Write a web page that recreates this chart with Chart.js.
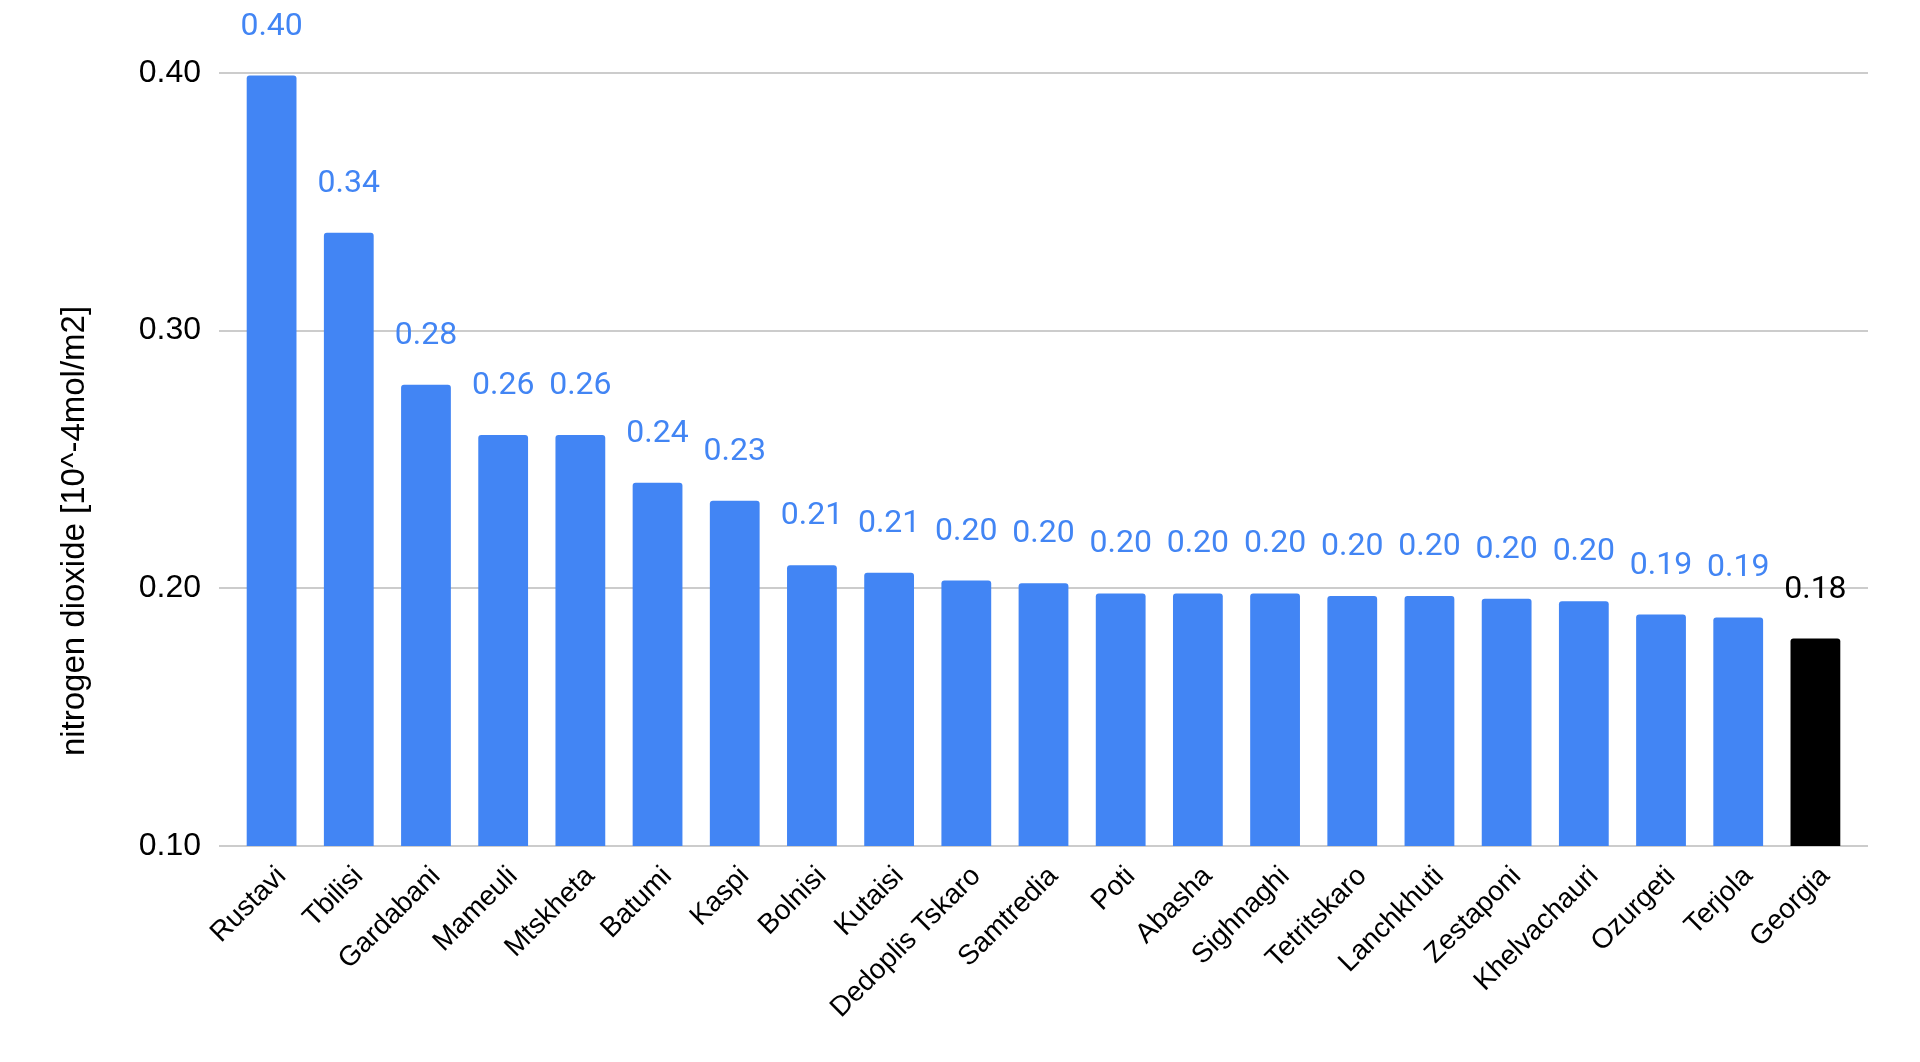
<!DOCTYPE html>
<html>
<head>
<meta charset="utf-8">
<script src="https://cdn.jsdelivr.net/npm/chart.js@4"></script>
<style>
  html, body { margin: 0; padding: 0; background: #fff; }
  #wrap { width: 1920px; height: 1062px; }
</style>
</head>
<body>
<div id="wrap"><canvas id="grafico"></canvas></div>
<script>
// regiões e valores
const regioes = ['Rustavi', 'Tbilisi', 'Gardabani', 'Mameuli', 'Mtskheta', 'Batumi', 'Kaspi',
  'Bolnisi', 'Kutaisi', 'Dedoplis Tskaro', 'Samtredia', 'Poti', 'Abasha', 'Sighnaghi',
  'Tetritskaro', 'Lanchkhuti', 'Zestaponi', 'Khelvachauri', 'Ozurgeti', 'Terjola', 'Georgia'];
const valoresNO2 = [0.399, 0.338, 0.279, 0.2595, 0.2595, 0.241, 0.234,
  0.209, 0.206, 0.203, 0.202, 0.198, 0.198, 0.198,
  0.197, 0.197, 0.196, 0.195, 0.1898, 0.1887, 0.1805];
const ticksY = [0.10, 0.20, 0.30, 0.40];
const tituloY = 'nitrogen dioxide [10^-4mol/m2]';

const AZUL = '#4285f4';
const cores = regioes.map(r => r === 'Georgia' ? '#000000' : AZUL);

// rótulos de valor acima das barras
const rotulosValor = {
  id: 'rotulosValor',
  afterDatasetsDraw(chart) {
    const ctx = chart.ctx;
    const barras = chart.getDatasetMeta(0).data;
    ctx.save();
    ctx.font = '32px Roboto';
    ctx.textAlign = 'center';
    ctx.textBaseline = 'alphabetic';
    barras.forEach((barra, i) => {
      ctx.fillStyle = cores[i];
      ctx.fillText(valoresNO2[i].toFixed(2), barra.x, barra.y - 41);
    });
    ctx.restore();
  }
};

// título do eixo Y centrado na altura total
const tituloEixo = {
  id: 'tituloEixo',
  afterDraw(chart) {
    const ctx = chart.ctx;
    ctx.save();
    ctx.translate(75, chart.height / 2);
    ctx.rotate(-Math.PI / 2);
    ctx.font = '33px "Liberation Sans"';
    ctx.fillStyle = '#000';
    ctx.textAlign = 'center';
    ctx.textBaseline = 'middle';
    ctx.fillText(tituloY, 0, 0);
    ctx.restore();
  }
};

new Chart(document.getElementById('grafico').getContext('2d'), {
  type: 'bar',
  data: {
    labels: regioes,
    datasets: [{
      data: valoresNO2,
      backgroundColor: cores,
      borderRadius: { topLeft: 3, topRight: 3 },
      borderSkipped: 'bottom',
      barPercentage: 0.645,
      categoryPercentage: 1
    }]
  },
  options: {
    responsive: true,
    maintainAspectRatio: false,
    animation: false,
    layout: { padding: { top: 73, right: 52, bottom: 0, left: 0 } },
    plugins: {
      legend: { display: false },
      tooltip: { enabled: false }
    },
    scales: {
      x: {
        grid: { display: false },
        border: { display: false },
        ticks: {
          minRotation: 45,
          maxRotation: 45,
          padding: 6,
          labelOffset: 10,
          color: '#000',
          font: { size: 28, family: '"Liberation Sans"' }
        },
        afterFit(scale) { scale.height = 216; }
      },
      y: {
        min: 0.1,
        max: 0.4,
        border: { display: false },
        grid: { color: '#cccccc', lineWidth: 2, tickLength: 14 },
        afterBuildTicks(scale) { scale.ticks = ticksY.map(v => ({ value: v })); },
        ticks: {
          padding: 18,
          color: '#000',
          font: { size: 32, family: '"Liberation Sans"' },
          callback: v => Number(v).toFixed(2)
        },
        afterFit(scale) { scale.width = 233; }
      },
      y2: {
        position: 'right',
        min: 0.1,
        max: 0.4,
        border: { display: false },
        grid: { color: '#cccccc', lineWidth: 2, tickLength: 14, drawOnChartArea: false },
        afterBuildTicks(scale) { scale.ticks = ticksY.map(v => ({ value: v })); },
        ticks: { display: false },
        afterFit(scale) { scale.width = 14; }
      }
    }
  },
  plugins: [rotulosValor, tituloEixo]
});
</script>
</body>
</html>
